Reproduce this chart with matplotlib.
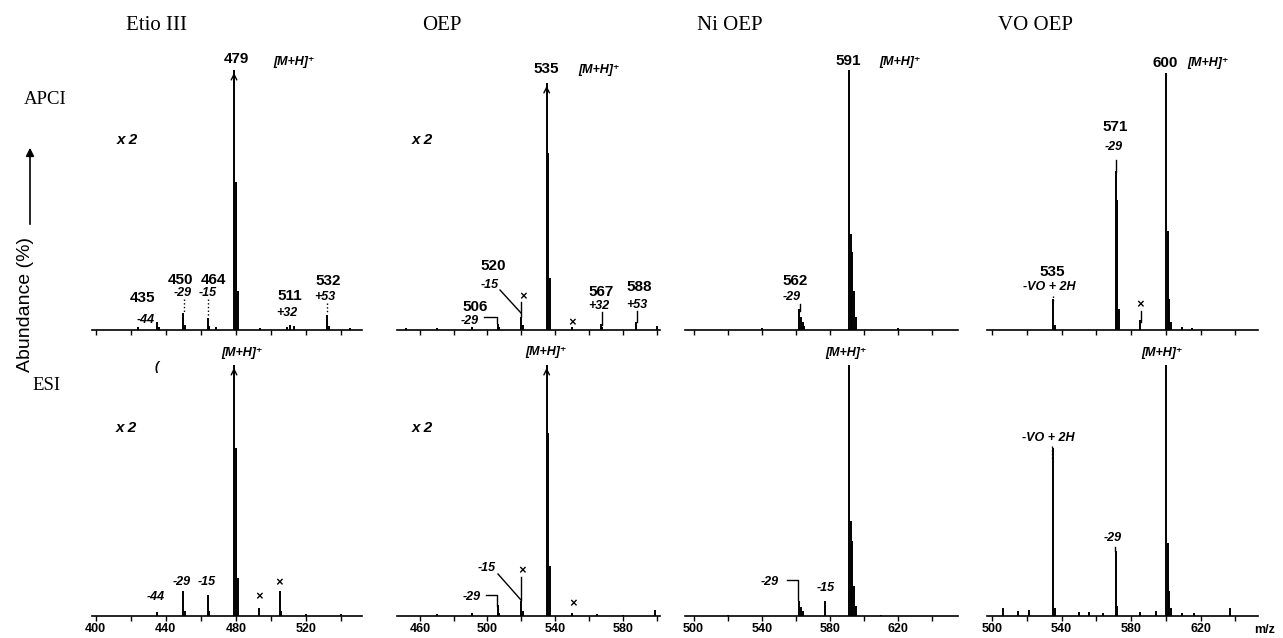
import matplotlib
matplotlib.use("Agg")
import matplotlib.pyplot as plt
from matplotlib.ticker import MultipleLocator

W, H = 1283, 638

# peak lists: m/z and relative abundance (%)
etio_apci_mz = [424, 435, 436, 450, 451, 464, 465, 469, 479, 480, 481, 494, 509, 511, 513, 532, 533, 545]
etio_apci_ab = [1.0, 3.0, 1.0, 6.5, 2.0, 4.6, 1.5, 1.0, 100, 57, 15, 0.8, 1.2, 2.0, 1.5, 5.8, 1.5, 0.8]

oep_apci_mz = [452, 470, 491, 506, 507, 520, 521, 535, 536, 537, 550, 567, 568, 588, 600]
oep_apci_ab = [0.8, 0.6, 1.0, 2.5, 1.0, 5.0, 2.0, 95, 68, 20, 1.0, 2.5, 1.0, 3.0, 1.5]

ni_apci_mz = [540, 562, 563, 564, 565, 591, 592, 593, 594, 595, 620]
ni_apci_ab = [0.6, 8.0, 5.0, 3.0, 1.5, 100, 37, 30, 15, 5, 0.8]

vo_apci_mz = [535, 536, 571, 572, 573, 585, 600, 601, 602, 603, 609, 615]
vo_apci_ab = [12, 2, 61, 50, 8, 4, 99, 38, 12, 3, 1.0, 0.8]

etio_esi_mz = [435, 450, 451, 464, 465, 479, 480, 481, 493, 505, 506, 520, 540]
etio_esi_ab = [1.5, 10, 2, 8.5, 2, 100, 67, 15, 3, 10, 2, 0.7, 0.6]

oep_esi_mz = [470, 491, 506, 507, 520, 521, 535, 536, 537, 550, 565, 580, 599]
oep_esi_ab = [0.6, 1.0, 4.5, 1.0, 6.0, 2.0, 100, 73, 20, 1.2, 0.6, 0.5, 2.5]

ni_esi_mz = [520, 562, 563, 564, 577, 591, 592, 593, 594, 595, 610]
ni_esi_ab = [0.5, 6.0, 3.5, 2.0, 6.0, 100, 38, 30, 12, 4, 0.5]

vo_esi_mz = [506, 515, 521, 535, 536, 550, 556, 564, 571, 572, 585, 594, 600, 601, 602, 603, 609, 616, 637]
vo_esi_ab = [3, 2, 2.5, 67, 3, 1.5, 1.5, 1, 26, 4, 1.5, 2, 100, 29, 10, 3, 1, 1, 3]

titles = ["Etio III", "OEP", "Ni OEP", "VO OEP"]
xlims = [(398, 552), (446.5, 602), (495, 655), (497, 653)]
tick_labels = [[400, 440, 480, 520], [460, 500, 540, 580],
               [500, 540, 580, 620], [500, 540, 580, 620]]
apci = [(etio_apci_mz, etio_apci_ab), (oep_apci_mz, oep_apci_ab),
        (ni_apci_mz, ni_apci_ab), (vo_apci_mz, vo_apci_ab)]
esi = [(etio_esi_mz, etio_esi_ab), (oep_esi_mz, oep_esi_ab),
       (ni_esi_mz, ni_esi_ab), (vo_esi_mz, vo_esi_ab)]
arrow_peaks = {0: 479, 1: 535}   # off-scale main peaks (x 2 traces)

# layout in pixels
col_px = [(92, 362), (397, 660), (685, 958), (987, 1258)]
row_px = [(70, 330), (365, 616)]

fig = plt.figure(figsize=(W / 100, H / 100), dpi=100)


def add_ax(x0, x1, y0, y1):
    return fig.add_axes([x0 / W, 1 - y1 / H, (x1 - x0) / W, (y1 - y0) / H])


for r, rows in enumerate([apci, esi]):
    for c, (mz, ab) in enumerate(rows):
        ax = add_ax(*col_px[c], *row_px[r])
        ax.vlines(mz, 0, ab, color="black", lw=1.4)
        if c in arrow_peaks:
            i = mz.index(arrow_peaks[c])
            ax.annotate("", xy=(mz[i], ab[i]), xytext=(mz[i], ab[i] - 4),
                        arrowprops=dict(arrowstyle="->", lw=1, color="black",
                                        mutation_scale=10), annotation_clip=False)
        ax.set_xlim(*xlims[c])
        ax.set_ylim(0, 100)
        for s in ["left", "top", "right"]:
            ax.spines[s].set_visible(False)
        ax.spines["bottom"].set_linewidth(1.2)
        ax.set_yticks([])
        ax.patch.set_alpha(0)
        if r == 0:
            ax.xaxis.set_major_locator(MultipleLocator(20))
            ax.tick_params(axis="x", length=3.5, width=1, labelbottom=False)
        else:
            ax.set_xticks(tick_labels[c])
            ax.xaxis.set_minor_locator(MultipleLocator(20))
            ax.tick_params(axis="x", which="both", length=3.5, width=1, pad=1.5)
            for lab in ax.get_xticklabels():
                lab.set_fontfamily("Liberation Sans")
                lab.set_fontweight("bold")
                lab.set_fontsize(9)

# overlay for labels, in pixel coordinates
ov = fig.add_axes([0, 0, 1, 1])
ov.set_xlim(0, W)
ov.set_ylim(H, 0)
ov.axis("off")
ov.patch.set_alpha(0)

STY = {
    "title": dict(family="Liberation Serif", fontsize=15),
    "row": dict(family="Liberation Serif", fontsize=13.5),
    "num": dict(family="Liberation Sans", fontsize=11, fontweight="bold"),
    "ann": dict(family=["Liberation Sans", "DejaVu Sans"], fontsize=9,
                fontweight="bold", style="italic"),
    "x2": dict(family="Liberation Sans", fontsize=11, fontweight="bold", style="italic"),
}

labels = [
    (156, 25, "Etio III", "title"), (442, 25, "OEP", "title"),
    (730, 25, "Ni OEP", "title"), (1035, 25, "VO OEP", "title"),
    (45, 100, "APCI", "row"), (47, 386, "ESI", "row"),
    # Etio APCI
    (236, 59, "479", "num"), (294, 62, "[M+H]⁺", "ann"), (127, 140, "x 2", "x2"),
    (143, 298, "435", "num"), (146, 320, "-44", "ann"),
    (180, 280, "450", "num"), (183, 293, "-29", "ann"),
    (213, 280, "464", "num"), (208, 293, "-15", "ann"),
    (290, 296, "511", "num"), (287, 313, "+32", "ann"),
    (328, 281, "532", "num"), (325, 297, "+53", "ann"),
    # OEP APCI
    (546, 69, "535", "num"), (599, 70, "[M+H]⁺", "ann"), (422, 140, "x 2", "x2"),
    (493, 266, "520", "num"), (490, 285, "-15", "ann"), (523, 297, "×", "ann"),
    (475, 307, "506", "num"), (470, 321, "-29", "ann"),
    (601, 292, "567", "num"), (599, 306, "+32", "ann"),
    (639, 287, "588", "num"), (637, 305, "+53", "ann"), (572, 323, "×", "ann"),
    # Ni APCI
    (848, 61, "591", "num"), (900, 62, "[M+H]⁺", "ann"),
    (795, 281, "562", "num"), (792, 297, "-29", "ann"),
    # VO APCI
    (1165, 63, "600", "num"), (1208, 63, "[M+H]⁺", "ann"),
    (1115, 127, "571", "num"), (1114, 147, "-29", "ann"),
    (1052, 272, "535", "num"), (1049, 287, "-VO + 2H", "ann"), (1140, 305, "×", "ann"),
    # Etio ESI
    (242, 353, "[M+H]⁺", "ann"), (157, 367, "(", "ann"), (126, 428, "x 2", "x2"),
    (156, 597, "-44", "ann"), (182, 582, "-29", "ann"), (207, 582, "-15", "ann"),
    (259, 597, "×", "ann"), (279, 583, "×", "ann"),
    # OEP ESI
    (546, 352, "[M+H]⁺", "ann"), (422, 428, "x 2", "x2"),
    (487, 568, "-15", "ann"), (522, 571, "×", "ann"),
    (472, 597, "-29", "ann"), (573, 604, "×", "ann"),
    # Ni ESI
    (846, 353, "[M+H]⁺", "ann"), (770, 582, "-29", "ann"), (826, 588, "-15", "ann"),
    # VO ESI
    (1162, 353, "[M+H]⁺", "ann"), (1048, 438, "-VO + 2H", "ann"), (1113, 538, "-29", "ann"),
]
for x, y, s, k in labels:
    ov.text(x, y, s, ha="center", va="center", **STY[k])

ov.text(1265, 630, "m/z", ha="center", va="center", family="Liberation Sans",
        fontsize=9, fontweight="bold")

# leader lines from labels down to their peaks
leaders = [
    ([184, 184], [299, 312], ":"), ([208, 208], [299, 316], ":"), ([327, 327], [303, 314], ":"),
    ([500, 521], [290, 313], "-"), ([521, 521], [302, 317], "-"),
    ([484, 497, 497], [317, 317, 323], "-"), ([602, 602], [312, 325], "-"),
    ([637, 637], [311, 322], "-"), ([800, 800], [304, 311], "-"),
    ([1116, 1116], [160, 172], "-"), ([1053, 1053], [296, 302], ":"),
    ([1141, 1141], [311, 322], "-"),
    ([498, 521], [574, 600], "-"), ([521, 521], [577, 600], "-"),
    ([486, 497, 497], [595, 595, 606], "-"),
    ([787, 798, 798], [580, 580, 600], "-"),
    ([1052, 1052], [446, 460], ":"), ([1115, 1115], [547, 551], "-"),
]
for xs, ys, ls in leaders:
    ov.plot(xs, ys, color="black", lw=1, ls=ls)

# y-axis label with upward arrow
ov.text(26, 305, "Abundance (%)", rotation=90, ha="center", va="center",
        family="Liberation Sans", fontsize=14)
ov.annotate("", xy=(30, 145), xytext=(30, 227),
            arrowprops=dict(arrowstyle="-|>", lw=1.2, color="black", mutation_scale=12))

fig.savefig("out.png", dpi=100)
